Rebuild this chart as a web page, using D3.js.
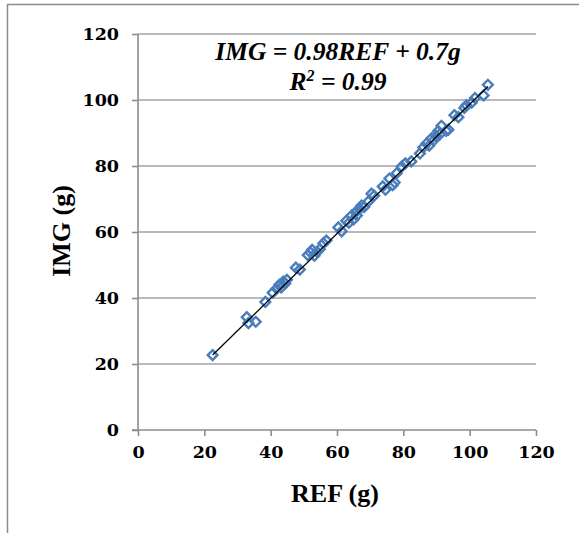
<!DOCTYPE html>
<html>
<head>
<meta charset="utf-8">
<script src="https://cdn.jsdelivr.net/npm/d3@7"></script>
<style>
  html, body { margin: 0; padding: 0; background: #fff; }
  svg { display: block; }
</style>
</head>
<body>
<svg id="chart" width="579" height="533"></svg>
<script>
// Reference weight (REF) vs. image-estimated weight (IMG), in grams
const refValues = [22.5, 32.8, 33.3, 35.5, 38.4, 40.6, 41.8, 42.6, 43.2, 43.8, 44.4, 44.9,
  47.6, 48.8, 51.2, 52.0, 52.5, 53.2, 54.0, 54.8, 55.9, 56.8, 60.4, 61.4, 62.8, 63.6,
  64.4, 65.0, 65.6, 66.0, 66.8, 67.4, 68.2, 69.4, 70.4, 71.2, 73.8, 74.6, 75.8, 76.8,
  77.4, 78.0, 79.5, 80.6, 82.4, 85.0, 86.0, 87.0, 87.8, 88.5, 89.2, 89.8, 90.5, 91.0,
  91.5, 92.9, 93.6, 95.4, 96.6, 98.4, 99.0, 100.6, 101.6, 104.2, 105.5];
const imgValues = [22.7, 34.2, 32.4, 32.8, 38.8, 41.6, 42.8, 44.0, 43.2, 45.0, 44.4, 45.5,
  49.2, 48.6, 53.0, 53.8, 54.6, 52.8, 54.0, 54.8, 56.6, 57.4, 61.4, 60.2, 63.4, 62.8,
  65.0, 63.8, 66.0, 65.0, 67.0, 68.0, 67.6, 69.2, 71.6, 71.0, 73.8, 72.8, 76.2, 74.2,
  75.0, 77.8, 79.8, 80.8, 81.4, 83.8, 85.6, 86.8, 86.2, 88.4, 87.8, 89.2, 90.6, 89.6,
  92.2, 90.6, 91.0, 95.4, 94.8, 97.6, 98.4, 99.2, 100.6, 101.4, 104.6];

const xTicks = [0, 20, 40, 60, 80, 100, 120];
const yTicks = [0, 20, 40, 60, 80, 100, 120];

// Least-squares trend line reported on the chart
const slope = 0.98;
const intercept = 0.7;
const equationText = "IMG = 0.98REF + 0.7g";
const r2Value = "0.99";

const points = refValues.map((r, i) => ({ ref: r, img: imgValues[i] }));

const svg = d3.select("#chart");
const plot = { left: 138, right: 536, top: 34, bottom: 430 };

const x = d3.scaleLinear().domain([0, 120]).range([plot.left, plot.right]);
const y = d3.scaleLinear().domain([0, 120]).range([plot.bottom, plot.top]);

const gridColor = "#a3a3a3";
const axisColor = "#8c8c8c";
const tickFont = "'DejaVu Serif', serif";
const titleFont = "'Liberation Serif', 'Times New Roman', serif";

// Outer chart frame
svg.append("rect")
  .attr("x", 7.5).attr("y", 4.5)
  .attr("width", 600).attr("height", 560)
  .attr("fill", "none")
  .attr("stroke", axisColor)
  .attr("stroke-width", 1.5);

// Horizontal gridlines
svg.append("g")
  .selectAll("line")
  .data(yTicks.filter(t => t > 0))
  .join("line")
  .attr("x1", x(0)).attr("x2", x(120))
  .attr("y1", d => y(d)).attr("y2", d => y(d))
  .attr("stroke", gridColor)
  .attr("stroke-width", 1.6);

// Axes
const xAxis = d3.axisBottom(x).tickValues(xTicks).tickSize(6).tickPadding(10).tickFormat(d3.format("d"));
const yAxis = d3.axisLeft(y).tickValues(yTicks).tickSize(6).tickPadding(13).tickFormat(d3.format("d"));

const gx = svg.append("g").attr("transform", `translate(0,${plot.bottom})`).call(xAxis);
const gy = svg.append("g").attr("transform", `translate(${plot.left},0)`).call(yAxis);

[gx, gy].forEach(g => {
  g.select(".domain").attr("stroke", axisColor).attr("stroke-width", 1.6);
  g.selectAll(".tick line").attr("stroke", axisColor).attr("stroke-width", 1.6);
  g.selectAll(".tick text")
    .attr("fill", "#000")
    .style("font-family", tickFont)
    .style("font-weight", "bold")
    .style("font-size", "17.5px");
});
gy.select(".domain").attr("d", `M-6,${y(0)}H0V${y(120)}`);
gx.select(".domain").attr("d", `M${x(0)},0H${x(120)}`);

// Hollow diamond markers
const diamond = d3.symbol().type(d3.symbolSquare).size(48);
svg.append("g")
  .selectAll("path")
  .data(points)
  .join("path")
  .attr("d", diamond)
  .attr("transform", d => `translate(${x(d.ref)},${y(d.img)}) rotate(45)`)
  .attr("fill", "none")
  .attr("stroke", "#4a7ebb")
  .attr("stroke-width", 2.4);

// Trend line over the observed REF range, drawn above the markers
const [xMin, xMax] = d3.extent(refValues);
svg.append("line")
  .attr("x1", x(xMin)).attr("y1", y(slope * xMin + intercept))
  .attr("x2", x(xMax)).attr("y2", y(slope * xMax + intercept))
  .attr("stroke", "#000")
  .attr("stroke-width", 1.3);

// Axis titles
svg.append("text")
  .attr("x", (plot.left + plot.right) / 2 - 2)
  .attr("y", 502)
  .attr("text-anchor", "middle")
  .style("font-family", titleFont)
  .style("font-weight", "bold")
  .style("font-size", "26px")
  .text("REF (g)");

svg.append("text")
  .attr("transform", `translate(70,${231}) rotate(-90)`)
  .attr("text-anchor", "middle")
  .style("font-family", titleFont)
  .style("font-weight", "bold")
  .style("font-size", "26px")
  .text("IMG (g)");

// Regression equation and R²
const eq = svg.append("g")
  .style("font-family", titleFont)
  .style("font-weight", "bold")
  .style("font-style", "italic")
  .style("font-size", "25.5px")
  .attr("text-anchor", "middle");

eq.append("text").attr("x", 338).attr("y", 60).text(equationText);

const r2 = eq.append("text").attr("x", 338).attr("y", 90);
r2.append("tspan").text("R");
r2.append("tspan").attr("dy", -9).style("font-size", "16px").text("2");
r2.append("tspan").attr("dy", 9).text(" = " + r2Value);
</script>
</body>
</html>
